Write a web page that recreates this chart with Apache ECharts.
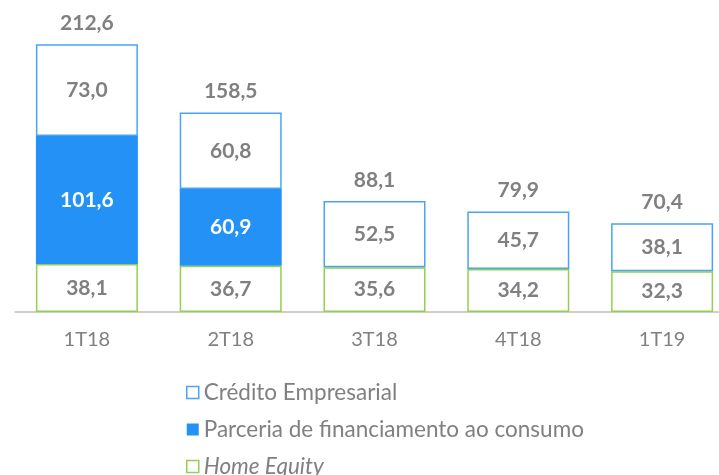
<!DOCTYPE html>
<html><head><meta charset="utf-8">
<script src="https://cdn.jsdelivr.net/npm/echarts@6/dist/echarts.min.js"></script>
<style>html,body{margin:0;padding:0;background:#fff}#c{width:719px;height:475px}</style>
</head><body><div id="c"></div>
<script>
const categories = ['1T18','2T18','3T18','4T18','1T19'];
const homeEquity = [38.1, 36.7, 35.6, 34.2, 32.3];
const parceria = [101.6, 60.9, null, null, null];
const credito = [73.0, 60.8, 52.5, 45.7, 38.1];
const totals = [212.6, 158.5, 88.1, 79.9, 70.4];
const seriesNames = ['Crédito Empresarial','Parceria de financiamento ao consumo','Home Equity'];

const FONT = 'Lato';
const grey = '#808080';
const fmt = p => (p.value == null ? '' : Number(p.value).toFixed(1).replace('.', ','));
const chart = echarts.init(document.getElementById('c'));
chart.setOption({
  animation: false,
  textStyle: {fontFamily: FONT},
  grid: {left: 15, width: 719, top: 35, bottom: 163, outerBoundsMode: 'none', containLabel: false},
  xAxis: {type: 'category', data: categories,
    axisLine: {lineStyle: {color: '#bfbfbf', width: 1.5}}, axisTick: {show: false},
    axisLabel: {color: grey, fontSize: 20, fontFamily: FONT, margin: 18}},
  yAxis: {type: 'value', min: 0, max: 220, show: false, splitLine: {show: false}},
  legend: {orient: 'vertical', left: 186, top: 381, height: 120, itemWidth: 12, itemHeight: 12, itemGap: 14, padding: 0,
    textStyle: {color: grey, fontSize: 22.5, fontFamily: FONT, lineHeight: 21},
    data: [
      {name: seriesNames[0], icon: 'rect', itemStyle: {color: '#fff', borderColor: '#4aa3f5', borderWidth: 1.5}},
      {name: seriesNames[1], icon: 'rect', itemStyle: {color: '#2391f5'}},
      {name: seriesNames[2], icon: 'rect', itemStyle: {color: '#fff', borderColor: '#92d050', borderWidth: 1.5}, textStyle: {fontStyle: 'italic'}}
    ]},
  series: [
    {name: seriesNames[2], type: 'bar', stack: 's', data: homeEquity, barWidth: 102,
      itemStyle: {color: '#fff', borderColor: '#92d050', borderWidth: 1.5},
      label: {show: true, position: 'inside', color: grey, fontWeight: 'bold', fontSize: 21, fontFamily: FONT, formatter: fmt}},
    {name: seriesNames[1], type: 'bar', stack: 's', data: parceria, barWidth: 102,
      itemStyle: {color: '#2391f5', borderColor: '#2391f5', borderWidth: 0},
      label: {show: true, position: 'inside', color: '#fff', fontWeight: 'bold', fontSize: 21, fontFamily: FONT, formatter: fmt}},
    {name: seriesNames[0], type: 'bar', stack: 's', data: credito, barWidth: 102,
      itemStyle: {color: '#fff', borderColor: '#4aa3f5', borderWidth: 1.5},
      label: {show: true, position: 'inside', color: grey, fontWeight: 'bold', fontSize: 21, fontFamily: FONT, formatter: fmt}},
    {name: 'Total', type: 'line', data: totals, symbol: 'circle', symbolSize: 1, showSymbol: true,
      itemStyle: {color: 'rgba(0,0,0,0)'}, lineStyle: {width: 0, color: 'rgba(0,0,0,0)'}, silent: true, z: 10,
      label: {show: true, position: 'top', distance: 10, color: grey, fontWeight: 'bold', fontSize: 21, fontFamily: FONT, formatter: fmt}}
  ]
});
</script></body></html>
